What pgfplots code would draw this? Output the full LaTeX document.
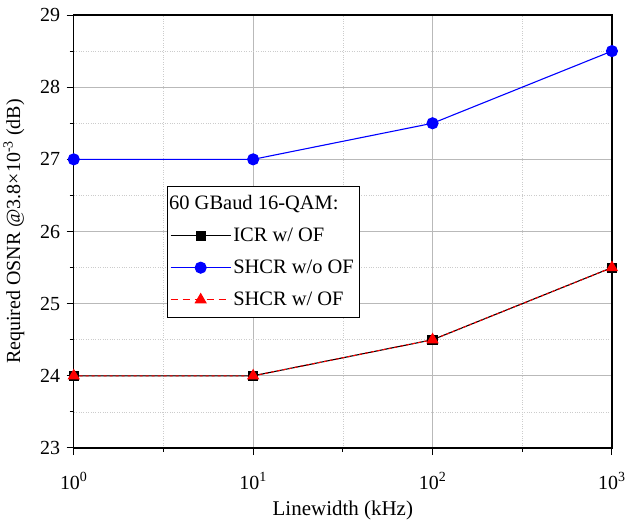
\documentclass[border=0pt]{standalone}
\usepackage{fontspec}
\setmainfont{Liberation Serif}
\usepackage{pgfplots}
\pgfplotsset{compat=1.18}
\begin{document}
\begin{tikzpicture}
\begin{axis}[
  scale only axis,
  width=537bp, height=432bp,
  xmode=log,
  xmin=1, xmax=1000,
  ymin=23, ymax=29,
  xtick={1,10,100,1000},
  xticklabels={10\textsuperscript{0},10\textsuperscript{1},10\textsuperscript{2},10\textsuperscript{3}},
  minor xtick={3.1623,31.623,316.23},
  ytick={23,24,25,26,27,28,29},
  minor ytick={23.5,24.5,25.5,26.5,27.5,28.5},
  /pgf/number format/assume math mode=true,
  tick align=outside,
  xtick pos=bottom, ytick pos=left,
  major tick length=7bp, minor tick length=4bp,
  every tick/.style={black, line width=1bp},
  grid=both,
  major grid style={gray!55, line width=0.8bp},
  minor grid style={gray!40, dotted, line width=0.6bp},
  axis line style={black, line width=1.2bp},
  tick label style={font=\fontsize{20}{24}\selectfont},
  xticklabel style={yshift=-14bp},
  yticklabel style={xshift=-3bp},
  xlabel style={font=\fontsize{21}{24}\selectfont, yshift=-5bp},
  ylabel style={font=\fontsize{20}{24}\selectfont, yshift=9bp},
  xlabel={Linewidth (kHz)},
  ylabel={Required OSNR @3.8×10\textsuperscript{-3} (dB)},
  legend style={at={(0.173,0.606)}, anchor=north west,
    font=\fontsize{20.5}{24}\selectfont, inner xsep=3bp, inner ysep=1bp,
    nodes={inner ysep=8.5bp}},
  legend cell align=left,
  after end axis/.code={\path ([yshift=15bp]rel axis cs:0,1) ([xshift=25bp]rel axis cs:1,0);},
]
\addlegendimage{empty legend}
\addlegendentry{\hspace{-64bp}60 GBaud 16-QAM:}
\addplot[color=black, line width=1.1bp, mark=square*, mark size=4.5bp,
  mark options={solid, fill=black},
  legend image code/.code={%
    \draw[draw=black, solid, line width=1.1bp] (0bp,0bp) -- (60bp,0bp);
    \draw[black, mark=square*, mark size=4.5bp, mark options={fill=black}] plot coordinates {(30bp,0bp)};}]
  coordinates {(1,24) (10,24) (100,24.5) (1000,25.5)};
\addlegendentry{ICR w/ OF}
\addplot[color=blue, line width=1.1bp, mark=*, mark size=5.5bp,
  mark options={solid, fill=blue},
  legend image code/.code={%
    \draw[draw=blue, solid, line width=1.1bp] (0bp,0bp) -- (60bp,0bp);
    \draw[blue, mark=*, mark size=5.5bp, mark options={fill=blue}] plot coordinates {(30bp,0bp)};}]
  coordinates {(1,27) (10,27) (100,27.5) (1000,28.5)};
\addlegendentry{SHCR w/o OF}
\addplot[color=red, dashed, line width=1.1bp, mark=triangle*, mark size=6bp,
  mark options={solid, fill=red},
  legend image code/.code={%
    \draw[draw=red, dash pattern=on 7bp off 5bp, line width=1.1bp] (0bp,0bp) -- (60bp,0bp);
    \draw[red, solid, mark=triangle*, mark size=6bp, mark options={fill=red}] plot coordinates {(30bp,0bp)};}]
  coordinates {(1,24) (10,24) (100,24.5) (1000,25.5)};
\addlegendentry{SHCR w/ OF}
\end{axis}
\end{tikzpicture}
\end{document}
